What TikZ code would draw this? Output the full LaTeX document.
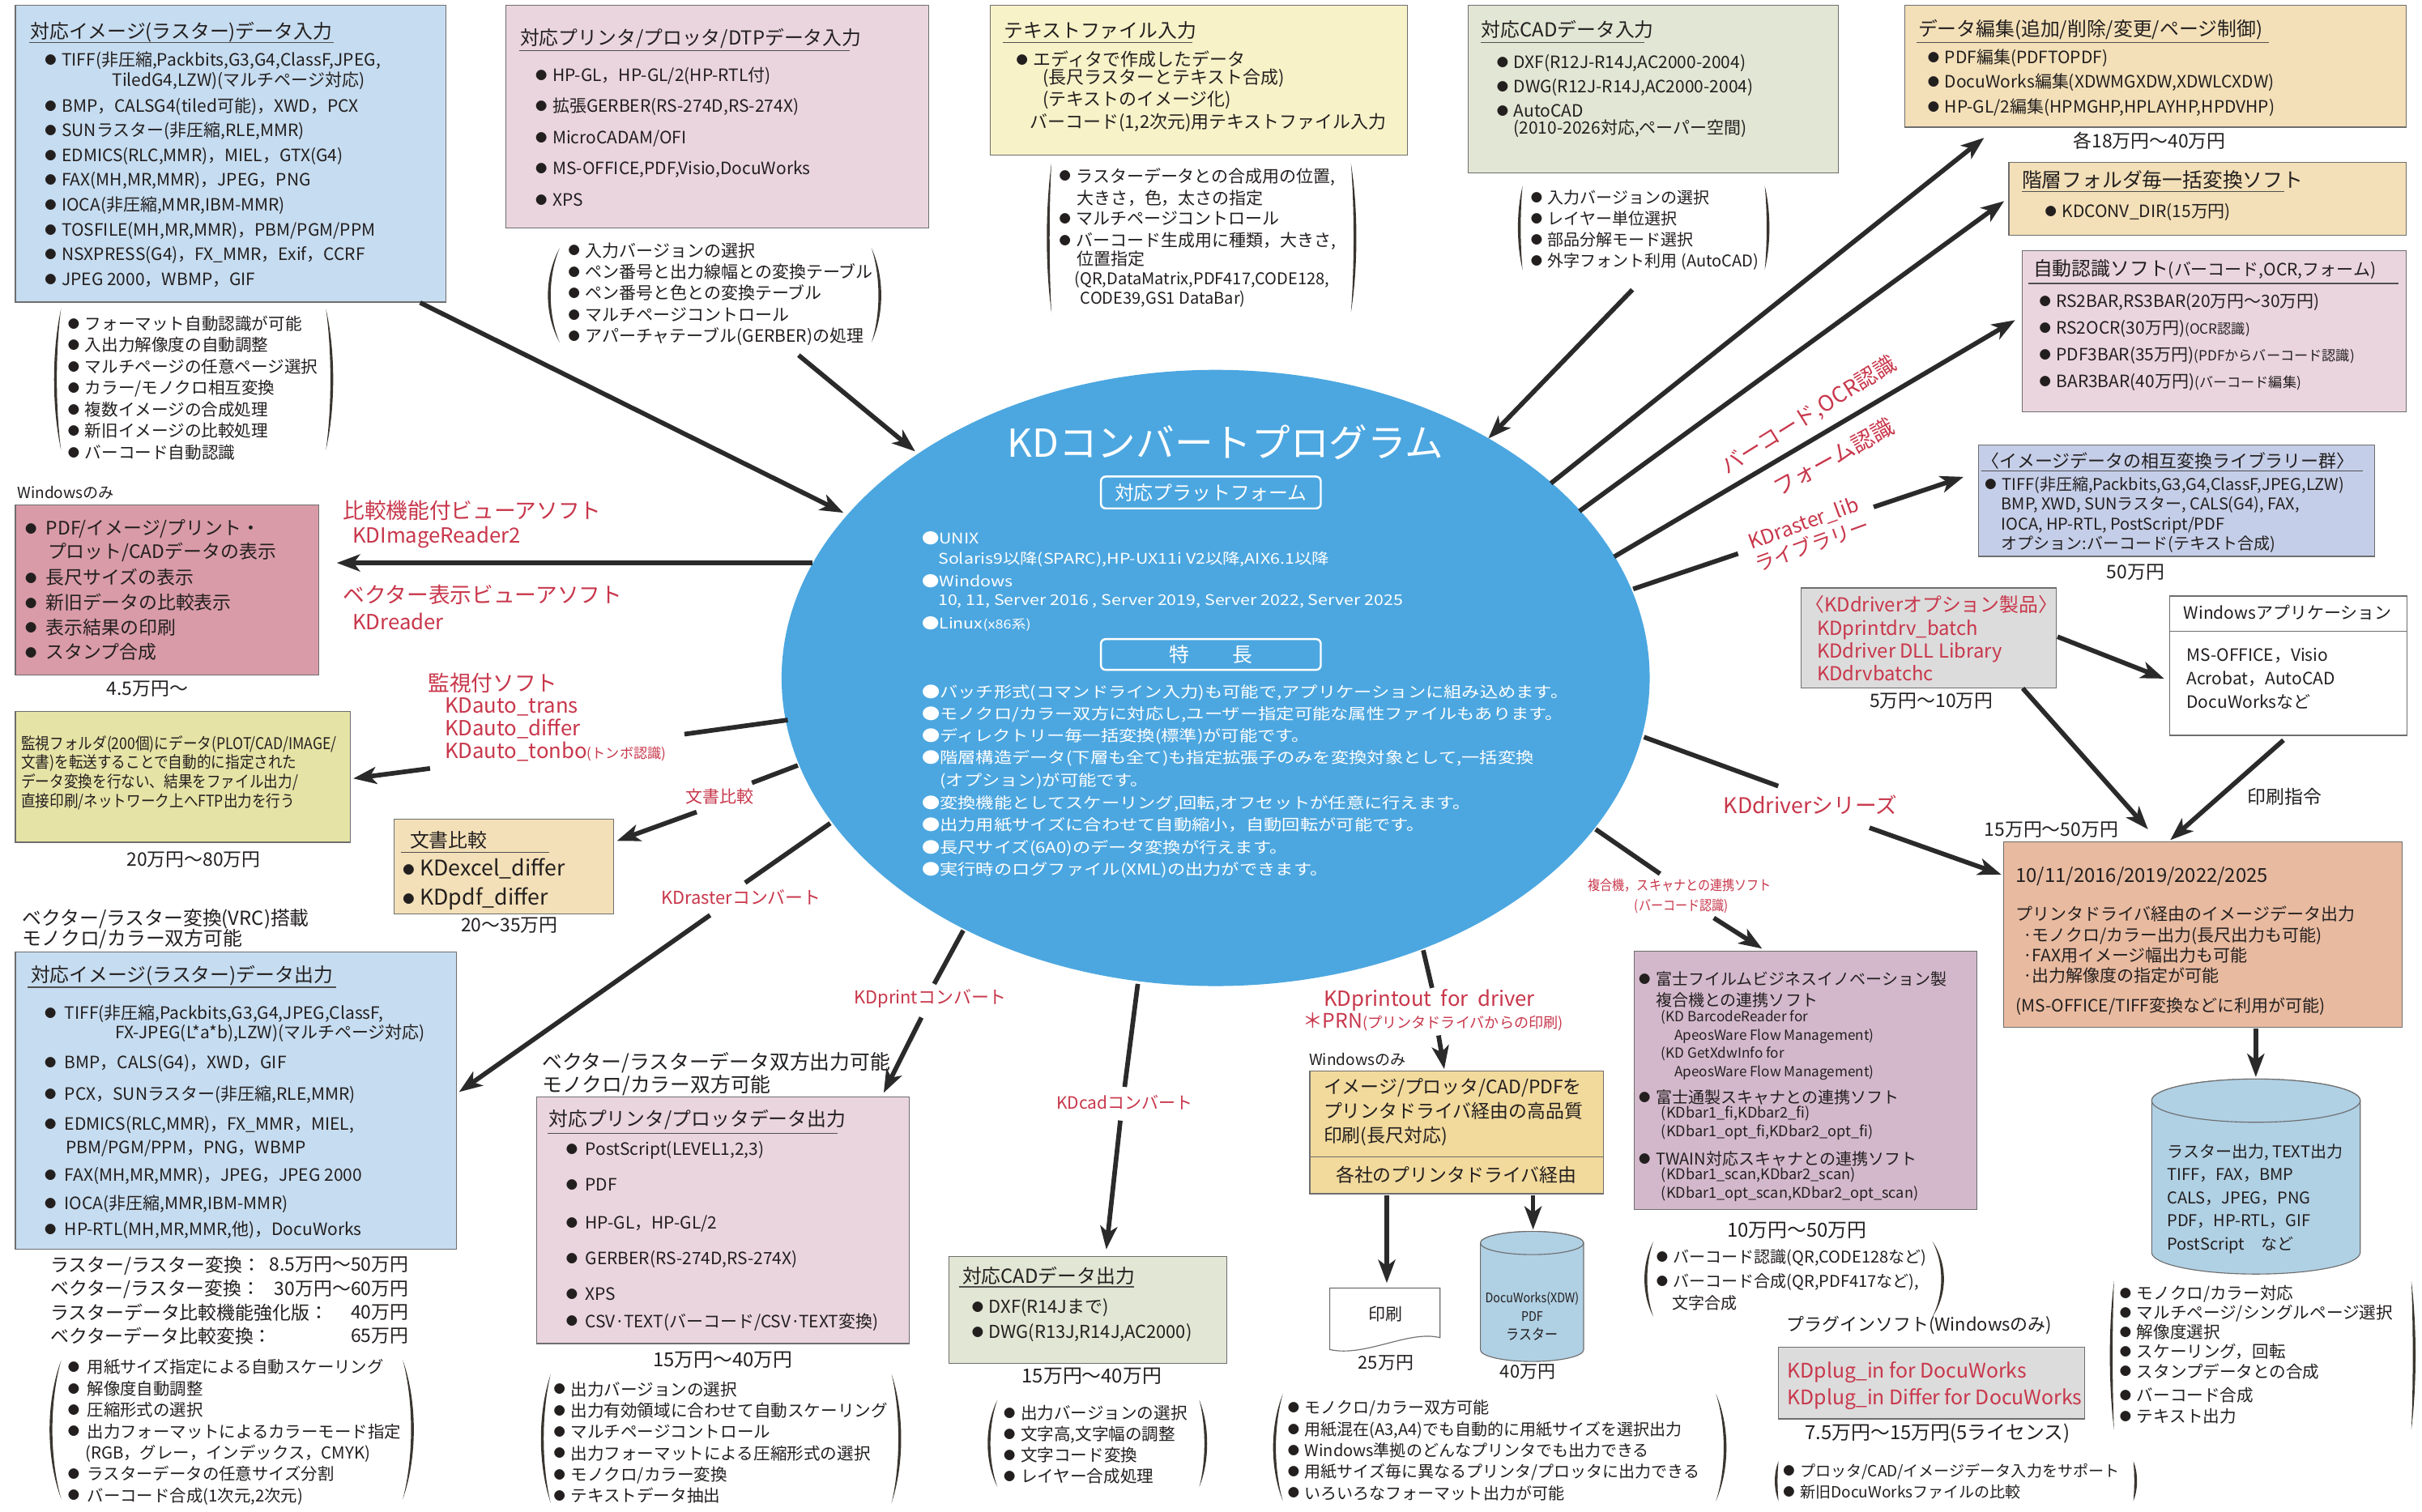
\documentclass[tikz,border=0pt]{standalone}
\usepackage{fontspec}
\setmainfont{Noto Sans CJK JP}
\newfontfamily\jpw[FakeStretch=1.18]{Noto Sans CJK JP}
\newfontfamily\jpc[FakeStretch=0.88]{Noto Sans CJK JP}
\usetikzlibrary{arrows.meta,shapes.geometric}
\definecolor{txc}{HTML}{231F1F}
\definecolor{redc}{HTML}{C8374B}
\definecolor{arrc}{HTML}{2A2A2A}
\definecolor{bordc}{HTML}{6E6E6E}
\definecolor{ulc}{HTML}{505050}
\definecolor{parc}{HTML}{3A352F}
\definecolor{ellc}{HTML}{4CA7E0}
\definecolor{cBlue}{HTML}{C6DCF0}
\definecolor{cPink}{HTML}{EAD5DE}
\definecolor{cYel}{HTML}{F7F2C8}
\definecolor{cGrn}{HTML}{E2E6D4}
\definecolor{cTan}{HTML}{F3E0B8}
\definecolor{cLav}{HTML}{C5CEE8}
\definecolor{cRose}{HTML}{D99BA8}
\definecolor{cOli}{HTML}{E6E3A6}
\definecolor{cGray}{HTML}{DCDCDC}
\definecolor{cSal}{HTML}{E8BAA0}
\definecolor{cPur}{HTML}{D3B8CC}
\definecolor{cGold}{HTML}{F2DA9C}
\definecolor{cCyl}{HTML}{B0D0E4}
\newcommand\bu{\raisebox{1.1pt}{\fontsize{7.5}{7.5}\selectfont ●}\hspace{3.5pt}}
\newcommand\myfs[2]{\fontsize{#1}{#2}\selectfont}
\newcommand\BX[6]{\node[boxst,fill=#2,anchor=north west,minimum width=#5pt,minimum height=#6pt] (#1) at (#3,#4) {};}
\newcommand\myLP[4]{\fill[parc] (#1,#2) .. controls ({#1-#4/0.75},{#2+0.3*(#3-#2)}) and ({#1-#4/0.75},{#3-0.3*(#3-#2)}) .. (#1,#3) .. controls ({#1-(#4-1.8)/0.75},{#3-0.3*(#3-#2)}) and ({#1-(#4-1.8)/0.75},{#2+0.3*(#3-#2)}) .. cycle;}
\newcommand\myRP[4]{\fill[parc] (#1,#2) .. controls ({#1+#4/0.75},{#2+0.3*(#3-#2)}) and ({#1+#4/0.75},{#3-0.3*(#3-#2)}) .. (#1,#3) .. controls ({#1+(#4-1.8)/0.75},{#3-0.3*(#3-#2)}) and ({#1+(#4-1.8)/0.75},{#2+0.3*(#3-#2)}) .. cycle;}
\tikzset{
  boxst/.style={draw=bordc,line width=0.6pt,inner sep=0pt,outer sep=0pt},
  tx/.style={anchor=west,inner sep=0pt,outer sep=0pt,align=left,text=txc},
  tcn/.style={anchor=center,inner sep=0pt,outer sep=0pt,align=center,text=txc},
  rtx/.style={text=redc},
  wtx/.style={text=white},
  fz/.style 2 args={font=\fontsize{#1}{#2}\selectfont},
  fw/.style 2 args={font=\jpw\fontsize{#1}{#2}\selectfont},
  fc/.style 2 args={font=\jpc\fontsize{#1}{#2}\selectfont},
  uline/.style={draw=ulc,line width=0.7pt},
  conn/.style={draw=arrc,line width=3pt},
  arr/.style={draw=arrc,line width=3pt,-{Stealth[length=15pt,width=11pt,inset=4pt]}},
  platbox/.style={draw=white,line width=1.3pt,rounded corners=3pt,inner sep=0pt,text=white},
}
\begin{document}
\begin{tikzpicture}[x=1pt,y=-1pt]
\path[use as bounding box] (0,0) rectangle (1568,979);
\fill[white] (0,0) rectangle (1568,979);

% ---------- boxes ----------
\BX{bA}{cBlue}{10}{3.5}{278.5}{192.1}
\BX{bB}{cPink}{327.7}{3.5}{273.6}{144.3}
\BX{bC}{cYel}{641.3}{3.5}{269.7}{97.1}
\BX{bD}{cGrn}{950.6}{3.5}{239.4}{108.5}
\BX{bE}{cTan}{1233}{3.5}{324.8}{78.8}
\BX{bF}{cTan}{1300.5}{105.3}{257.3}{47.1}
\BX{bG}{cPink}{1309.4}{162.3}{248.4}{104.5}
\BX{bH}{cLav}{1280.7}{288.2}{256.8}{72.1}
\BX{bI}{cRose}{10}{326.8}{196.2}{110.5}
\BX{bJ}{cOli}{10}{460.8}{217}{84.6}
\BX{bU}{cTan}{255.3}{530.4}{142}{61.2}
\BX{bK}{cGray}{1165.9}{380.7}{165.5}{64.8}
\BX{bL}{white}{1404.5}{386}{153.7}{90.2}
\BX{bM}{cSal}{1297}{545.3}{258}{120.1}
\BX{bN}{cPur}{1057.9}{616}{221.9}{167.3}
\BX{bO}{cGray}{1151.4}{872.4}{198.3}{46.4}
\BX{bQ}{cGold}{848}{693.6}{190}{79.4}
\BX{bR}{cGrn}{614.4}{813.6}{179.7}{69.3}
\BX{bS}{cPink}{347.2}{710.2}{241.3}{159.8}
\BX{bT}{cBlue}{10}{616.6}{285.5}{192.4}

% ---------- ellipse ----------
\node[ellipse,fill=ellc,minimum width=562pt,minimum height=399pt,inner sep=0pt] (ell) at (787,439) {};
\node[tcn,wtx,fz={25}{28}] (ttl) at (793.4,286.3) {KDコンバートプログラム};
\node[platbox,fz={12.5}{14},minimum width=142.3pt,minimum height=20.6pt] (plat) at (783.9,318.9) {対応プラットフォーム};
\node[tx,wtx,fw={9.5}{14}] (u1) at (596.8,348.3) {●UNIX};
\node[tx,wtx,fw={9.5}{14}] (u2) at (607.4,362.4) {Solaris9以降(SPARC),HP-UX11i V2以降,AIX6.1以降};
\node[tx,wtx,fw={9.5}{14}] (u3) at (596.8,376.4) {●Windows};
\node[tx,wtx,fw={9.5}{14}] (u4) at (607.4,389.3) {10, 11, Server 2016 , Server 2019, Server 2022, Server 2025};
\node[tx,wtx,fw={9.5}{14}] (u5) at (596.8,404) {●Linux{\myfs{8}{10}(x86系)}};
\node[platbox,fz={13}{14},minimum width=142.3pt,minimum height=19.9pt] (feat) at (783.9,423.8) {特\hspace{28pt}長};
\node[tx,wtx,fw={9.9}{14.2}] (fe1) at (596.8,469.8) {●バッチ形式(コマンドライン入力)も可能で,アプリケーションに組み込めます。\\●モノクロ/カラー双方に対応し,ユーザー指定可能な属性ファイルもあります。\\●ディレクトリー毎一括変換(標準)が可能です。\\●階層構造データ(下層も全て)も指定拡張子のみを変換対象として,一括変換};
\node[tx,wtx,fw={9.9}{14.2}] (fe2) at (608.5,505.6) {(オプション)が可能です。};
\node[tx,wtx,fw={9.9}{14.43}] (fe3) at (596.8,542) {●変換機能としてスケーリング,回転,オフセットが任意に行えます。\\●出力用紙サイズに合わせて自動縮小，自動回転が可能です。\\●長尺サイズ(6A0)のデータ変換が行えます。\\●実行時のログファイル(XML)の出力ができます。};

% ---------- Box A ----------
\node[tx,fz={12.5}{15}] (tA) at (19.6,20.7) {対応イメージ(ラスター)データ入力};
\draw[uline] (19,27.6) -- (216,27.6);
\node[tx,fz={11}{14}] (A1) at (29,39.4) {\bu TIFF(非圧縮,Packbits,G3,G4,ClassF,JPEG,};
\node[tx,fz={11}{14}] (A2) at (72.7,52.2) {TiledG4,LZW)(マルチページ対応)};
\node[tx,fz={11}{16.06}] (A3) at (29,124.6) {\bu BMP，CALSG4(tiled可能)，XWD，PCX\\\bu SUNラスター(非圧縮,RLE,MMR)\\\bu EDMICS(RLC,MMR)，MIEL，GTX(G4)\\\bu FAX(MH,MR,MMR)，JPEG，PNG\\\bu IOCA(非圧縮,MMR,IBM-MMR)\\\bu TOSFILE(MH,MR,MMR)，PBM/PGM/PPM\\\bu NSXPRESS(G4)，FX\_MMR，Exif，CCRF\\\bu JPEG 2000，WBMP，GIF};
\node[tx,fz={10.8}{13.9}] (lA) at (44,251.1) {\bu フォーマット自動認識が可能\\\bu 入出力解像度の自動調整\\\bu マルチページの任意ページ選択\\\bu カラー/モノクロ相互変換\\\bu 複数イメージの合成処理\\\bu 新旧イメージの比較処理\\\bu バーコード自動認識};
\myLP{39.5}{200}{291.3}{4.5}
\myRP{211}{200}{291.3}{4.7}

% ---------- Box B ----------
\node[tx,fz={12.5}{15}] (tB) at (336.7,24.9) {対応プリンタ/プロッタ/DTPデータ入力};
\draw[uline] (336,32.8) -- (550,32.8);
\node[tx,fz={11}{20.2}] (B1) at (346.7,88.55) {\bu HP-GL，HP-GL/2(HP-RTL付)\\\bu 拡張GERBER(RS-274D,RS-274X)\\\bu MicroCADAM/OFI\\\bu MS-OFFICE,PDF,Visio,DocuWorks\\\bu XPS};
\node[tx,fz={11}{13.85}] (lB) at (368,190.4) {\bu 入力バージョンの選択\\\bu ペン番号と出力線幅との変換テーブル\\\bu ペン番号と色との変換テーブル\\\bu マルチページコントロール\\\bu アパーチャテーブル(GERBER)の処理};
\myLP{362.3}{160.7}{221.8}{7.6}
\myRP{564.2}{160.7}{221.8}{6.3}

% ---------- Box C ----------
\node[tx,fz={12.5}{15}] (tC) at (650,19.7) {テキストファイル入力};
\draw[uline] (649,27.6) -- (772,27.6);
\node[tx,fz={11.5}{14}] (C1) at (658,38.4) {\bu エディタで作成したデータ};
\node[tx,fz={11.5}{14.1}] (C2) at (675,57.85) {(長尺ラスターとテキスト合成)\\(テキストのイメージ化)};
\node[tx,fz={11.5}{14}] (C3) at (666.9,79.2) {バーコード(1,2次元)用テキストファイル入力};
\node[tx,fz={11}{14}] (lC1) at (685.7,114.4) {\bu ラスターデータとの合成用の位置,};
\node[tx,fz={11}{14}] (lC2) at (697,128.5) {大きさ，色，太さの指定};
\node[tx,fz={11}{14.3}] (lC3) at (685.7,149.35) {\bu マルチページコントロール\\\bu バーコード生成用に種類，大きさ,};
\node[tx,fz={11}{14}] (lC4) at (697,167.5) {位置指定};
\node[tx,fz={10.5}{12.9}] (lC5) at (695.7,187.45) {(QR,DataMatrix,PDF417,CODE128,\\\hspace*{3.8pt}CODE39,GS1 DataBar)};
\myLP{680.7}{105.8}{202.2}{3}
\myRP{874.6}{105.8}{202.2}{3.5}

% ---------- Box D ----------
\node[tx,fz={12.5}{15}] (tD) at (959,19) {対応CADデータ入力};
\draw[uline] (958.6,27.7) -- (1064.6,27.7);
\node[tx,fz={11}{15.75}] (D1) at (969,55.45) {\bu DXF(R12J-R14J,AC2000-2004)\\\bu DWG(R12J-R14J,AC2000-2004)\\\bu AutoCAD};
\node[tx,fz={11}{14}] (D2) at (979.9,83.3) {(2010-2026対応,ペーパー空間)};
\node[tx,fz={10.5}{13.7}] (lD) at (991,149) {\bu 入力バージョンの選択\\\bu レイヤー単位選択\\\bu 部品分解モード選択\\\bu 外字フォント利用 (AutoCAD)};
\myLP{985.7}{120.4}{174.6}{3}
\myRP{1142.5}{120.4}{174.6}{3}

% ---------- Box E, F, G, H ----------
\node[tx,fz={12.5}{15}] (tE) at (1241.8,19.1) {データ編集(追加/削除/変更/ページ制御)};
\draw[uline] (1241,27.6) -- (1469,27.6);
\node[tx,fz={11}{15.9}] (E1) at (1248,53.6) {\bu PDF編集(PDFTOPDF)\\\bu DocuWorks編集(XDWMGXDW,XDWLCXDW)\\\bu HP-GL/2編集(HPMGHP,HPLAYHP,HPDVHP)};
\node[tcn,fz={12}{14}] (pE) at (1391.5,91.2) {各18万円～40万円};
\node[tx,fz={13}{15}] (tF) at (1309,116.7) {階層フォルダ毎一括変換ソフト};
\draw[uline] (1309,124) -- (1479,124);
\node[tx,fz={11}{14}] (F1) at (1323.9,137.3) {\bu KDCONV\_DIR(15万円)};
\node[tx,fz={12.5}{15}] (tG) at (1316.3,174.6) {自動認識ソフト{\myfs{11}{13}(バーコード,OCR,フォーム)}};
\draw[uline] (1313,183.5) -- (1552.6,183.5);
\node[tx,fz={11}{17.3}] (G1) at (1320.2,221.45) {\bu RS2BAR,RS3BAR(20万円～30万円)\\\bu RS2OCR(30万円){\myfs{9}{11}(OCR認識)}\\\bu PDF3BAR(35万円){\myfs{9}{11}(PDFからバーコード認識)}\\\bu BAR3BAR(40万円){\myfs{9}{11}(バーコード編集)}};
\node[tx,fz={11.5}{14}] (tH) at (1283,298.6) {〈イメージデータの相互変換ライブラリー群〉};
\draw[uline] (1282.5,305) -- (1529.5,305);
\node[tx,fz={10.5}{13}] (H1) at (1285,314.1) {\bu TIFF(非圧縮,Packbits,G3,G4,ClassF,JPEG,LZW)};
\node[tx,fz={10.5}{12.85}] (H2) at (1295.6,339.8) {BMP, XWD, SUNラスター, CALS(G4), FAX,\\IOCA, HP-RTL, PostScript/PDF\\オプション:バーコード(テキスト合成)};
\node[tcn,fz={12}{14}] (pH) at (1382.5,370.4) {50万円};
\node[tcn,rtx,fz={14}{16},rotate=32] (lbOCR) at (1171,269) {バーコード,OCR認識};
\node[tcn,rtx,fz={14.5}{16},rotate=29] (lbForm) at (1187,296) {フォーム認識};
\node[tcn,rtx,fz={13}{14},rotate=20] (lbLib1) at (1167.7,339.2) {KDraster\_lib};
\node[tcn,rtx,fz={13}{14},rotate=20] (lbLib2) at (1173,352.4) {ライブラリー};

% ---------- Box I, J, U ----------
\node[tx,fz={10}{12}] (wI) at (11.3,318.9) {Windowsのみ};
\node[tx,fz={12}{16}] (I1) at (16.3,342.4) {\bu\hspace{2.5pt}PDF/イメージ/プリント・};
\node[tx,fz={12}{16}] (I2) at (31,357.4) {プロット/CADデータの表示};
\node[tx,fz={12}{16}] (I3) at (16.3,398.05) {\bu\hspace{2.5pt}長尺サイズの表示\\\bu\hspace{2.5pt}新旧データの比較表示\\\bu\hspace{2.5pt}表示結果の印刷\\\bu\hspace{2.5pt}スタンプ合成};
\node[tcn,fz={12}{14}] (pI) at (95.3,446.2) {4.5万円～};
\node[tx,rtx,fz={14}{16}] (rv1) at (222,330.7) {比較機能付ビューアソフト};
\node[tx,rtx,fz={13.5}{16}] (rv2) at (228.2,347.8) {KDImageReader2};
\node[tx,rtx,fz={14}{16}] (rv3) at (222,385.3) {ベクター表示ビューアソフト};
\node[tx,rtx,fz={13.5}{16}] (rv4) at (228.2,402.4) {KDreader};
\node[tx,rtx,fz={14}{16}] (rm1) at (277.1,442.4) {監視付ソフト};
\node[tx,rtx,fz={13.5}{14.5}] (rm2) at (287.9,472.5) {KDauto\_trans\\KDauto\_differ\\KDauto\_tonbo{\myfs{9}{11}(トンボ認識)}};
\node[tx,fc={10.5}{12.5}] (J1) at (13.8,500.35) {監視フォルダ(200個)にデータ(PLOT/CAD/IMAGE/\\文書)を転送することで自動的に指定された\\データ変換を行ない、結果をファイル出力/\\直接印刷/ネットワーク上へFTP出力を行う};
\node[tcn,fz={12}{14}] (pJ) at (125.4,556.5) {20万円～80万円};
\node[tx,fz={12.5}{15}] (tU) at (265.4,544.1) {文書比較};
\draw[uline] (259.6,551.8) -- (355.6,551.8);
\node[tx,fz={14}{18.5}] (U1) at (260.8,572.55) {\bu KDexcel\_differ\\\bu KDpdf\_differ};
\node[tcn,fz={12}{14}] (pU) at (329.8,599.3) {20～35万円};

% ---------- red connector labels ----------
\node[tcn,rtx,fz={11}{13}] (rDoc) at (466,515.6) {文書比較};
\node[tcn,rtx,fz={11.5}{13}] (rRas) at (479.8,581.2) {KDrasterコンバート};
\node[tcn,rtx,fz={11.5}{13}] (rPrt) at (602.3,646.6) {KDprintコンバート};
\node[tcn,rtx,fz={11}{13}] (rCad) at (728.1,714) {KDcadコンバート};
\node[tx,rtx,fz={13.5}{15}] (rPo1) at (856.9,647.9) {KDprintout\hspace{0.45em}for\hspace{0.45em}driver};
\node[tx,rtx,fz={13}{15}] (rPo2) at (843.3,661.5) {＊PRN{\myfs{9.5}{11}(プリンタドライバからの印刷)}};
\node[tcn,rtx,fc={9}{11}] (rMfp1) at (1087.5,573.4) {複合機，スキャナとの連携ソフト};
\node[tcn,rtx,fc={9}{11}] (rMfp2) at (1088.6,586.7) {(バーコード認識)};
\node[tcn,rtx,fz={14}{16}] (rDrv) at (1172,521.2) {KDdriverシリーズ};

% ---------- Box T ----------
\node[tx,fz={12.5}{13.3}] (vT) at (14.5,601.45) {ベクター/ラスター変換(VRC)搭載\\モノクロ/カラー双方可能};
\node[tx,fz={12.5}{15}] (tT) at (20,631.5) {対応イメージ(ラスター)データ出力};
\draw[uline] (18,639.2) -- (217.7,639.2);
\node[tx,fz={11}{14}] (T1) at (28.85,656.4) {\bu\hspace{2pt}TIFF(非圧縮,Packbits,G3,G4,JPEG,ClassF,};
\node[tx,fz={11}{14}] (T2) at (74.7,669.2) {FX-JPEG(L*a*b),LZW)(マルチページ対応)};
\node[tx,fz={11}{14}] (T3) at (28.85,688.4) {\bu\hspace{2pt}BMP，CALS(G4)，XWD，GIF};
\node[tx,fz={11}{14}] (T4) at (28.85,708.9) {\bu\hspace{2pt}PCX，SUNラスター(非圧縮,RLE,MMR)};
\node[tx,fz={11}{14}] (T5) at (28.85,728.2) {\bu\hspace{2pt}EDMICS(RLC,MMR)，FX\_MMR，MIEL,};
\node[tx,fz={11}{14}] (T6) at (42.6,743.5) {PBM/PGM/PPM，PNG，WBMP};
\node[tx,fz={11}{14}] (T7) at (28.85,761.5) {\bu\hspace{2pt}FAX(MH,MR,MMR)，JPEG，JPEG 2000};
\node[tx,fz={11}{14}] (T8) at (28.85,779.5) {\bu\hspace{2pt}IOCA(非圧縮,MMR,IBM-MMR)};
\node[tx,fz={11}{14}] (T9) at (28.85,796.6) {\bu\hspace{2pt}HP-RTL(MH,MR,MMR,他)，DocuWorks};
\node[tx,fz={12}{15.4}] (pT1) at (32.6,842.1) {ラスター/ラスター変換：\\ベクター/ラスター変換：\\ラスターデータ比較機能強化版：\\ベクターデータ比較変換：};
\node[anchor=east,inner sep=0pt,align=right,text=txc,fz={12}{15.4}] (pT2) at (264.6,842.1) {8.5万円～50万円\\30万円～60万円\\40万円\\65万円};
\node[tx,fz={10.7}{13.82}] (lT) at (44,927.35) {\bu\hspace{1.5pt}用紙サイズ指定による自動スケーリング\\\bu\hspace{1.5pt}解像度自動調整\\\bu\hspace{1.5pt}圧縮形式の選択\\\bu\hspace{1.5pt}出力フォーマットによるカラーモード指定\\\hspace*{11.2pt}(RGB，グレー，インデックス，CMYK)\\\bu\hspace{1.5pt}ラスターデータの任意サイズ分割\\\bu\hspace{1.5pt}バーコード合成(1次元,2次元)};
\myLP{39.6}{880.8}{970.6}{7.5}
\myRP{260.8}{880.8}{970.6}{7.1}

% ---------- Box S ----------
\node[tx,fz={13}{13}] (vS) at (351,695.5) {ベクター/ラスターデータ双方出力可能\\モノクロ/カラー双方可能};
\node[tx,fz={12.5}{15}] (tS) at (355.2,725.1) {対応プリンタ/プロッタデータ出力};
\draw[uline] (354.7,733.8) -- (542,733.8);
\node[tx,fz={11}{14}] (S1) at (366.45,744.8) {\bu\hspace{1.5pt}PostScript(LEVEL1,2,3)};
\node[tx,fz={11}{14}] (S2) at (366.45,767.2) {\bu\hspace{1.5pt}PDF};
\node[tx,fz={11}{14}] (S3) at (366.45,792.3) {\bu\hspace{1.5pt}HP-GL，HP-GL/2};
\node[tx,fz={11}{14}] (S4) at (366.45,815.4) {\bu\hspace{1.5pt}GERBER(RS-274D,RS-274X)};
\node[tx,fz={11}{14}] (S5) at (366.45,838) {\bu\hspace{1.5pt}XPS};
\node[tx,fz={11}{14}] (S6) at (366.45,856) {\bu\hspace{1.5pt}CSV·TEXT(バーコード/CSV·TEXT変換)};
\node[tcn,fz={12.5}{14}] (pS) at (468,880.8) {15万円～40万円};
\node[tx,fz={10.8}{13.8}] (lS) at (358.5,934) {\bu 出力バージョンの選択\\\bu 出力有効領域に合わせて自動スケーリング\\\bu マルチページコントロール\\\bu 出力フォーマットによる圧縮形式の選択\\\bu モノクロ/カラー変換\\\bu テキストデータ抽出};
\myLP{356.5}{889.8}{973.2}{6.3}
\myRP{577.2}{889.8}{973.2}{6.2}

% ---------- Box R ----------
\node[tx,fz={12.5}{15}] (tR) at (623,826.2) {対応CADデータ出力};
\draw[uline] (620.7,833.3) -- (734.4,833.3);
\node[tx,fz={11.5}{15.9}] (R1) at (629.2,854.95) {\bu DXF(R14Jまで)\\\bu DWG(R13J,R14J,AC2000)};
\node[tcn,fz={12.5}{14}] (pR) at (706.8,891.1) {15万円～40万円};
\node[tx,fz={10.8}{13.67}] (lR) at (649.8,935.5) {\bu 出力バージョンの選択\\\bu 文字高,文字幅の調整\\\bu 文字コード変換\\\bu レイヤー合成処理};
\myLP{645.7}{906.5}{962.9}{6.3}
\myRP{776.4}{906.5}{962.9}{5.1}

% ---------- Box Q and outputs ----------
\node[tx,fz={10}{12}] (wQ) at (847.5,686) {Windowsのみ};
\draw[draw=bordc,line width=0.6pt] (848,749.2) -- (1038,749.2);
\node[tx,fz={12}{15.65}] (Q1) at (856.9,720.25) {イメージ/プロッタ/CAD/PDFを\\プリンタドライバ経由の高品質\\印刷(長尺対応)};
\node[tcn,fz={12}{14}] (Q2) at (942.7,761) {各社のプリンタドライバ経由};
\filldraw[fill=white,draw=bordc,line width=0.6pt] (860.9,834.1) -- (932.3,834.1) -- (932.3,866.2) .. controls (912,861) and (884,879) .. (860.9,873.9) -- cycle;
\node[tcn,fz={11}{13}] (prt) at (897.2,850.8) {印刷};
\node[tcn,fz={11.5}{13}] (p25) at (897.2,882.5) {25万円};
\filldraw[fill=cCyl,draw=bordc,line width=0.6pt] (958.4,804.9) -- (958.4,874.1) arc[start angle=180,end angle=0,x radius=33.4,y radius=7.5] -- (1025.2,804.9) arc[start angle=0,end angle=-180,x radius=33.4,y radius=7.5] -- cycle;
\filldraw[fill=cCyl,draw=bordc,line width=0.6pt] (991.8,804.9) ellipse[x radius=33.4,y radius=7.5];
\node[tcn,fc={8.5}{10}] (cy2a) at (991.9,841) {DocuWorks(XDW)};
\node[tcn,fc={8.5}{10}] (cy2b) at (991.9,852.6) {PDF};
\node[tcn,fc={9.5}{10}] (cy2c) at (991.9,864.2) {ラスター};
\node[tcn,fz={11.5}{13}] (p40) at (989,888.5) {40万円};
\node[tx,fz={10.5}{13.78}] (lP) at (833.7,939.15) {\bu モノクロ/カラー双方可能\\\bu 用紙混在(A3,A4)でも自動的に用紙サイズを選択出力\\\bu Windows準拠のどんなプリンタでも出力できる\\\bu 用紙サイズ毎に異なるプリンタ/プロッタに出力できる\\\bu いろいろなフォーマット出力が可能};
\myLP{830.5}{902.6}{971.9}{6.3}
\myRP{1110.9}{902.6}{971.9}{6.8}

% ---------- Box N, O ----------
\node[tx,fz={10.5}{13.6}] (N1) at (1060.9,640.6) {\bu 富士フイルムビジネスイノベーション製\\\hspace*{11pt}複合機との連携ソフト};
\node[tx,fz={9}{11.8}] (N2) at (1075.5,676.7) {(KD BarcodeReader for\\\hspace*{8.5pt}ApeosWare Flow Management)\\(KD GetXdwInfo for\\\hspace*{8.5pt}ApeosWare Flow Management)};
\node[tx,fz={10.5}{13}] (N3) at (1060.9,710.8) {\bu 富士通製スキャナとの連携ソフト};
\node[tx,fz={9.5}{12.1}] (N4) at (1075.5,727.25) {(KDbar1\_fi,KDbar2\_fi)\\(KDbar1\_opt\_fi,KDbar2\_opt\_fi)};
\node[tx,fz={10.5}{13}] (N5) at (1060.9,750.5) {\bu TWAIN対応スキャナとの連携ソフト};
\node[tx,fz={9.5}{12}] (N6) at (1075.5,767) {(KDbar1\_scan,KDbar2\_scan)\\(KDbar1\_opt\_scan,KDbar2\_opt\_scan)};
\node[tcn,fz={12.5}{14}] (pN) at (1163.2,796.6) {10万円～50万円};
\node[tx,fz={10.5}{15.4}] (lN1) at (1072.3,822.3) {\bu バーコード認識(QR,CODE128など)\\\bu バーコード合成(QR,PDF417など),};
\node[tx,fz={10.5}{13}] (lN2) at (1082.5,843.6) {文字合成};
\myLP{1070.4}{803.9}{852.6}{5.8}
\myRP{1251.1}{803.9}{852.6}{7.4}
\node[tcn,fz={11.5}{13}] (plg) at (1242.6,858.4) {プラグインソフト(Windowsのみ)};
\node[tx,rtx,fz={13}{17.5}] (O1) at (1157.2,897.25) {KDplug\_in for DocuWorks\\KDplug\_in Differ for DocuWorks};
\node[tcn,fz={12.5}{14}] (pO) at (1254.4,928.3) {7.5万円～15万円(5ライセンス)};
\node[tx,fz={10}{13.6}] (lO) at (1154.4,959.4) {\bu プロッタ/CAD/イメージデータ入力をサポート\\\bu 新旧DocuWorksファイルの比較};
\myLP{1151.4}{946.2}{971.9}{2.4}
\myRP{1381.1}{946.2}{971.9}{2.4}

% ---------- Box K, L, M ----------
\node[tx,rtx,fz={12.5}{14}] (K0) at (1168.6,391.2) {〈KDdriverオプション製品〉};
\node[tx,rtx,fz={12.5}{14.65}] (K1) at (1176.3,421.05) {KDprintdrv\_batch\\KDdriver DLL Library\\KDdrvbatchc};
\node[tcn,fz={12}{14}] (pK) at (1250.4,454) {5万円～10万円};
\node[tx,fz={11}{13}] (L0) at (1413.8,396.6) {Windowsアプリケーション};
\draw[draw=bordc,line width=0.6pt] (1404.5,409) -- (1558.2,409);
\node[tx,fz={11}{15.1}] (L1) at (1415.6,439.3) {MS-OFFICE，Visio\\Acrobat，AutoCAD\\DocuWorksなど};
\node[tcn,fz={12}{14}] (prc) at (1479,516) {印刷指令};
\node[tcn,fz={12}{14}] (pM0) at (1328,537.5) {15万円～50万円};
\node[tx,fz={12.5}{14}] (M1) at (1305,567.5) {10/11/2016/2019/2022/2025};
\node[tx,fz={11}{14}] (M2) at (1305,591.6) {プリンタドライバ経由のイメージデータ出力};
\node[tx,fz={11}{13.25}] (M3) at (1309.5,618.65) {·モノクロ/カラー出力(長尺出力も可能)\\·FAX用イメージ幅出力も可能\\·出力解像度の指定が可能};
\node[tx,fz={11}{14}] (M4) at (1305,651.8) {(MS-OFFICE/TIFF変換などに利用が可能)};
\filldraw[fill=cCyl,draw=bordc,line width=0.6pt] (1393,712.7) -- (1393,811) arc[start angle=180,end angle=0,x radius=67.5,y radius=14] -- (1528,712.7) arc[start angle=0,end angle=-180,x radius=67.5,y radius=14] -- cycle;
\filldraw[fill=cCyl,draw=bordc,line width=0.6pt] (1460.5,712.7) ellipse[x radius=67.5,y radius=14];
\node[tx,fz={10.5}{14.95}] (cy1) at (1403,776.1) {ラスター出力, TEXT出力\\TIFF，FAX，BMP\\CALS，JPEG，PNG\\PDF，HP-RTL，GIF\\PostScript　など};
\node[tx,fz={10.8}{12.7}] (lM1) at (1372.3,862.6) {\bu モノクロ/カラー対応\\\bu マルチページ/シングルページ選択\\\bu 解像度選択\\\bu スケーリング，回転\\\bu スタンプデータとの合成};
\node[tx,fz={10.8}{14.1}] (lM2) at (1372.3,910.25) {\bu バーコード合成\\\bu テキスト出力};
\myLP{1368.6}{829.5}{925.7}{2.7}
\myRP{1561.1}{829.5}{925.7}{2.7}

% ---------- connectors ----------
\coordinate (a1s) at (272,196);      \coordinate (a1e) at (546,332);
\coordinate (a2s) at (517,230);      \coordinate (a2e) at (592.5,292.3);
\coordinate (a3s) at (1056.8,187.6); \coordinate (a3e) at (963.5,284);
\coordinate (a4s) at (1004,313);     \coordinate (a4e) at (1284.5,89.2);
\coordinate (a5s) at (1022.5,331);   \coordinate (a5e) at (1297.5,130.2);
\coordinate (a6s) at (1045,360.5);   \coordinate (a6e) at (1304.6,207.3);
\coordinate (a7s) at (1057.3,381.4); \coordinate (a7m) at (1125.2,358.5);
\coordinate (a7n) at (1213,328.3);   \coordinate (a7e) at (1271.2,308.8);
\coordinate (a8s) at (1064.3,477.3); \coordinate (a8m) at (1151.2,509);
\coordinate (a8n) at (1210.3,536);   \coordinate (a8e) at (1295.6,566.3);
\coordinate (a9s) at (1033,537);     \coordinate (a9m) at (1074.7,565.8);
\coordinate (a9n) at (1109.5,594.4); \coordinate (a9e) at (1140.8,614.3);
\coordinate (a10s) at (921.4,615.3); \coordinate (a10m) at (927.1,639.7);
\coordinate (a10n) at (931.3,670.5); \coordinate (a10e) at (935,692.3);
\coordinate (a11s) at (736.6,637.1); \coordinate (a11m) at (728.1,703.8);
\coordinate (a11n) at (725.3,725.6); \coordinate (a11e) at (716.2,809);
\coordinate (a12s) at (623.6,602.5); \coordinate (a12m) at (604.8,637.1);
\coordinate (a12n) at (596.5,658.9); \coordinate (a12e) at (572.1,707.6);
\coordinate (a13s) at (537.5,533.1); \coordinate (a13m) at (482.4,571.6);
\coordinate (a13n) at (459.7,592.6); \coordinate (a13e) at (297.2,707.1);
\coordinate (a14s) at (516.5,495.6); \coordinate (a14m) at (486.8,506.9);
\coordinate (a14n) at (451,525.8);   \coordinate (a14e) at (399.4,544.5);
\coordinate (a15s) at (510,466.2);   \coordinate (a15m) at (443.1,475.4);
\coordinate (a15n) at (278.4,497.6); \coordinate (a15e) at (228.7,504.1);
\coordinate (a16s) at (526,364.5);   \coordinate (a16e) at (218,364.5);
\coordinate (a17s) at (1332,412.3);  \coordinate (a17e) at (1401,439.4);
\coordinate (a18s) at (1309.5,445.7);\coordinate (a18e) at (1390.6,537);
\coordinate (a19s) at (1478.3,479.3);\coordinate (a19e) at (1405,544);
\coordinate (a20s) at (1460.4,666);  \coordinate (a20e) at (1460.4,697.4);
\coordinate (a21s) at (897.8,773.8); \coordinate (a21e) at (897.8,830.8);
\coordinate (a22s) at (992.5,773.8); \coordinate (a22e) at (992.5,796.2);

\draw[arr] (a1s) -- (a1e);
\draw[arr] (a2s) -- (a2e);
\draw[arr] (a3s) -- (a3e);
\draw[arr] (a4s) -- (a4e);
\draw[arr] (a5s) -- (a5e);
\draw[arr] (a6s) -- (a6e);
\draw[conn] (a7s) -- (a7m);  \draw[arr] (a7n) -- (a7e);
\draw[conn] (a8s) -- (a8m);  \draw[arr] (a8n) -- (a8e);
\draw[conn] (a9s) -- (a9m);  \draw[arr] (a9n) -- (a9e);
\draw[conn] (a10s) -- (a10m); \draw[arr] (a10n) -- (a10e);
\draw[conn] (a11s) -- (a11m); \draw[arr] (a11n) -- (a11e);
\draw[conn] (a12s) -- (a12m); \draw[arr] (a12n) -- (a12e);
\draw[conn] (a13s) -- (a13m); \draw[arr] (a13n) -- (a13e);
\draw[conn] (a14s) -- (a14m); \draw[arr] (a14n) -- (a14e);
\draw[conn] (a15s) -- (a15m); \draw[arr] (a15n) -- (a15e);
\draw[arr] (a16s) -- (a16e);
\draw[arr] (a17s) -- (a17e);
\draw[arr] (a18s) -- (a18e);
\draw[arr] (a19s) -- (a19e);
\draw[arr] (a20s) -- (a20e);
\draw[arr] (a21s) -- (a21e);
\draw[arr] (a22s) -- (a22e);
\end{tikzpicture}
\end{document}
